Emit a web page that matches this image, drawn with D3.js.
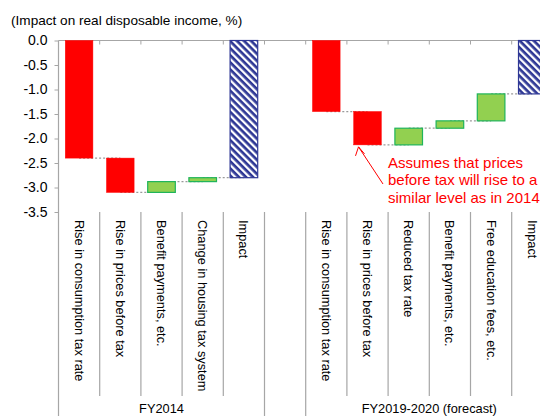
<!DOCTYPE html>
<html>
<head>
<meta charset="utf-8">
<script src="https://cdn.jsdelivr.net/npm/d3@7"></script>
<style>
  html, body { margin: 0; padding: 0; background: #fff; }
  svg { display: block; font-family: "Liberation Sans", Arial, sans-serif; }
</style>
</head>
<body>
<svg id="chart" width="540" height="416"></svg>
<script>
// Waterfall contributions to real disposable income (%)
const categories2014 = ["Rise in consumption tax rate", "Rise in prices before tax", "Benefit payments, etc.", "Change in housing tax system", "Impact"];
const values2014 = [-2.40, -0.70, 0.22, 0.08, null];
const categories2019 = ["Rise in consumption tax rate", "Rise in prices before tax", "Reduced tax rate", "Benefit payments, etc.", "Free education fees, etc.", "Impact"];
const values2019 = [-1.45, -0.68, 0.34, 0.15, 0.55, null];
const groupLabels = ["FY2014", "FY2019-2020 (forecast)"];
const yTicks = [0, -0.5, -1, -1.5, -2, -2.5, -3, -3.5];

(function () {
const svg = d3.select("#chart");
const W = 540, H = 416;
const plotLeft = 58.5, plotTop = 40.5, plotBottom = 212;

// Build waterfall rows: null value = total of the group so far
function buildRows(cats, vals, group) {
  let run = 0;
  return cats.map((c, i) => {
    const v = vals[i];
    let y0, y1, kind;
    if (v === null) { y0 = 0; y1 = run; kind = "total"; }
    else { y0 = run; y1 = run + v; run = y1; kind = v < 0 ? "neg" : "pos"; }
    return { key: group + "-" + i, label: c, y0, y1, kind, group };
  });
}
const rows2014 = buildRows(categories2014, values2014, 0);
const rows2019 = buildRows(categories2019, values2019, 1);
const slots = [...rows2014.map(d => d.key), "gap", ...rows2019.map(d => d.key)];
const rows = [...rows2014, ...rows2019];

const step = 41.2;
const x = d3.scaleBand().domain(slots)
  .range([plotLeft, plotLeft + step * slots.length])
  .paddingInner(0.33).paddingOuter(0.165);
const y = d3.scaleLinear().domain([-3.5, 0]).range([plotBottom, plotTop]);

const grey = "#a6a6a6";

// diagonal stripe pattern for total bars
const defs = svg.append("defs");
const pat = defs.append("pattern").attr("id", "stripes")
  .attr("patternUnits", "userSpaceOnUse").attr("width", 5).attr("height", 5)
  .attr("patternTransform", "rotate(45)");
pat.append("rect").attr("width", 5).attr("height", 5).attr("fill", "#ffffff");
pat.append("rect").attr("width", 5).attr("height", 2.7).attr("fill", "#2e3795");

// Title
svg.append("text").attr("x", 11).attr("y", 25)
  .attr("font-size", 13.6).attr("fill", "#000")
  .text("(Impact on real disposable income, %)");

// Y axis
const yAxis = d3.axisLeft(y).tickValues(yTicks).tickSize(4).tickPadding(7)
  .tickFormat(d => d3.format(".1f")(d).replace("−", "-"));
const gy = svg.append("g").attr("transform", `translate(${plotLeft},0)`).call(yAxis);
gy.select(".domain").remove();
gy.selectAll(".tick line").attr("stroke", grey);
gy.selectAll(".tick text").attr("font-size", 14).attr("fill", "#000")
  .attr("font-family", "Liberation Sans, Arial, sans-serif");
svg.append("line").attr("x1", plotLeft).attr("x2", plotLeft).attr("y1", plotTop).attr("y2", H)
  .attr("stroke", grey).attr("stroke-width", 1.2);

// zero line with boundary ticks
svg.append("line").attr("x1", plotLeft).attr("x2", W).attr("y1", y(0)).attr("y2", y(0))
  .attr("stroke", grey).attr("stroke-width", 1.2);
const bounds = d3.range(1, slots.length + 1).map(i => plotLeft + step * i);
svg.selectAll(".ztick").data(bounds).join("line")
  .attr("x1", d => d).attr("x2", d => d)
  .attr("y1", y(0)).attr("y2", y(0) + 4)
  .attr("stroke", grey);

// category separators below the plot
const groupEdges = [plotLeft + step * 5, plotLeft + step * 6];
svg.selectAll(".sep").data(bounds).join("line")
  .attr("x1", d => d).attr("x2", d => d)
  .attr("y1", plotBottom).attr("y2", d => groupEdges.some(g => Math.abs(g - d) < 0.5) ? H : 396)
  .attr("stroke", grey).attr("stroke-width", 1.2);

// connectors
const conn = [];
[rows2014, rows2019].forEach(rs => {
  for (let i = 0; i < rs.length - 1; i++) {
    conn.push({ x1: x(rs[i].key) + x.bandwidth() / 2, x2: x(rs[i + 1].key) + x.bandwidth() / 2, v: rs[i].y1 });
  }
});
svg.selectAll(".conn").data(conn).join("line")
  .attr("x1", d => d.x1).attr("x2", d => d.x2)
  .attr("y1", d => y(d.v)).attr("y2", d => y(d.v))
  .attr("stroke", "#9a9a9a").attr("stroke-width", 1.2).attr("stroke-dasharray", "2,2");

// bars
const fill = { neg: "#ff0000", pos: "#92d050", total: "url(#stripes)" };
const stroke = { neg: "#ff0000", pos: "#1fb45a", total: "#2e3795" };
svg.selectAll(".bar").data(rows).join("rect")
  .attr("x", d => x(d.key))
  .attr("width", x.bandwidth())
  .attr("y", d => y(Math.max(d.y0, d.y1)))
  .attr("height", d => Math.abs(y(d.y0) - y(d.y1)))
  .attr("fill", d => fill[d.kind])
  .attr("stroke", d => stroke[d.kind])
  .attr("stroke-width", d => d.kind === "neg" ? 0.5 : 1.2);

// rotated category labels
svg.selectAll(".cat").data(rows).join("text")
  .attr("transform", d => `translate(${x(d.key) + x.bandwidth() / 2 - 4.5},220) rotate(90)`)
  .attr("font-size", 12.8).attr("fill", "#000")
  .text(d => d.label);

// group labels
const gCenters = [plotLeft + step * 2.5, plotLeft + step * 9];
svg.selectAll(".grp").data(groupLabels).join("text")
  .attr("x", (d, i) => gCenters[i]).attr("y", 413)
  .attr("text-anchor", "middle").attr("font-size", 12.8).attr("fill", "#000")
  .text(d => d);

// annotation
const noteLines = ["Assumes that prices", "before tax will rise to a", "similar level as in 2014"];
svg.append("g").selectAll("text").data(noteLines).join("text")
  .attr("x", 388).attr("y", (d, i) => 168 + i * 17.3)
  .attr("font-size", 15).attr("fill", "#ff0000")
  .text(d => d);
const ax = x(rows2019[1].key) + x.bandwidth() / 2 - 9, ay = y(rows2019[1].y1) + 2;
svg.append("path")
  .attr("d", `M${383},${184} L${ax},${ay} M${ax - 3},${ay + 9} L${ax},${ay} L${ax + 6},${ay + 7}`)
  .attr("fill", "none").attr("stroke", "#ff0000").attr("stroke-width", 1);
})();
</script>
</body>
</html>
